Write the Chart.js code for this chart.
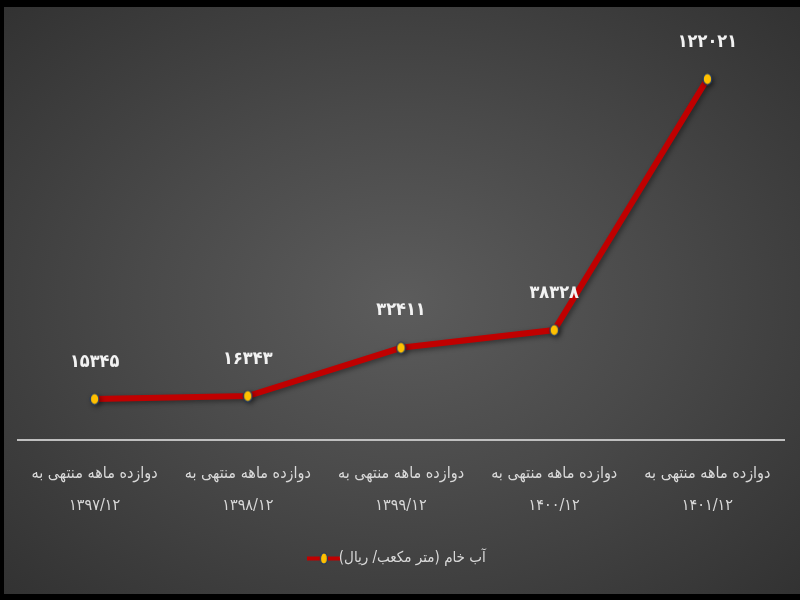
<!DOCTYPE html>
<html>
<head>
<meta charset="utf-8">
<script src="https://cdn.jsdelivr.net/npm/chart.js@4"></script>
<style>
  html, body { margin: 0; padding: 0; background: #000; }
  #wrap {
    position: absolute; left: 4px; top: 7px; width: 796px; height: 587px;
    background: radial-gradient(ellipse at 50% 50%, #5c5c5c 0%, #4a4a4a 45%, #323232 100%);
  }
</style>
</head>
<body>
<div id="wrap"><canvas id="myChart"></canvas></div>
<script>
"use strict";

var periodLabels = ['۱۳۹۷/۱۲', '۱۳۹۸/۱۲', '۱۳۹۹/۱۲', '۱۴۰۰/۱۲', '۱۴۰۱/۱۲'];
var labelPrefix = 'دوازده ماهه منتهی به';
var rawWater = [15345, 16343, 32411, 38328, 122021];
var seriesName = 'آب خام (متر مکعب/ ریال)';

function toPersian(n) {
    return String(n).replace(/[0-9]/g, function (d) { return '۰۱۲۳۴۵۶۷۸۹'[d]; });
}

// yellow oval dot used for points and legend
function makeDot(withLine) {
    var c = document.createElement('canvas');
    c.width = withLine ? 34 : 11;
    c.height = 13;
    var g = c.getContext('2d');
    if (withLine) {
        g.strokeStyle = '#c00000';
        g.lineWidth = 4;
        g.beginPath(); g.moveTo(0, 6.5); g.lineTo(34, 6.5); g.stroke();
    }
    var cx = c.width / 2;
    g.fillStyle = '#ffc000';
    g.strokeStyle = '#1f3864';
    g.lineWidth = 1.2;
    g.beginPath(); g.ellipse(cx, 6.5, withLine ? 3.5 : 4.3, 5.5, 0, 0, Math.PI * 2); g.fill(); g.stroke();
    return c;
}
var pointDot = makeDot(false);
var legendMarker = makeDot(true);

var valueLabels = {
    id: 'valueLabels',
    afterDatasetsDraw: function (chart) {
        var ctx = chart.ctx;
        var meta = chart.getDatasetMeta(0);
        ctx.save();
        ctx.fillStyle = '#f2f2f2';
        ctx.font = 'bold 18px "DejaVu Sans Condensed", "DejaVu Sans"';
        ctx.textAlign = 'center';
        ctx.textBaseline = 'middle';
        meta.data.forEach(function (pt, i) {
            ctx.fillText(toPersian(rawWater[i]), pt.x, pt.y - 37);
        });
        ctx.restore();
    }
};

var lineShadow = {
    id: 'lineShadow',
    beforeDatasetDraw: function (chart) {
        var ctx = chart.ctx;
        ctx.save();
        ctx.shadowColor = 'rgba(0,0,0,0.4)';
        ctx.shadowBlur = 5;
        ctx.shadowOffsetX = 2;
        ctx.shadowOffsetY = 2;
    },
    afterDatasetDraw: function (chart) {
        chart.ctx.restore();
    }
};

const ctx = document.getElementById('myChart').getContext('2d');
const myChart = new Chart(ctx, {
    type: 'line',
    data: {
        labels: periodLabels.map(function (p) { return [labelPrefix, p]; }),
        datasets: [{
            label: seriesName,
            data: rawWater,
            borderColor: '#c00000',
            borderWidth: 6,
            pointStyle: pointDot,
            pointRadius: 6,
            tension: 0
        }]
    },
    options: {
        responsive: true,
        maintainAspectRatio: false,
        animation: false,
        layout: { padding: { top: 14, left: 14, right: 16, bottom: 18 } },
        scales: {
            x: {
                offset: true,
                grid: { display: false, drawTicks: false },
                border: { display: true, color: '#bfbfbf', width: 2 },
                ticks: {
                    color: '#d9d9d9',
                    padding: 18,
                    font: { family: '"DejaVu Sans Condensed", "DejaVu Sans"', size: 16, lineHeight: 2 }
                }
            },
            y: {
                display: false,
                min: 1680,
                max: 141360
            }
        },
        plugins: {
            legend: {
                position: 'bottom',
                textDirection: 'rtl',
                labels: {
                    color: '#d9d9d9',
                    usePointStyle: true,
                    pointStyle: legendMarker,
                    padding: 11,
                    font: { family: '"DejaVu Sans Condensed", "DejaVu Sans"', size: 15 }
                }
            },
            tooltip: { enabled: false }
        }
    },
    plugins: [lineShadow, valueLabels]
});
</script>
</body>
</html>
